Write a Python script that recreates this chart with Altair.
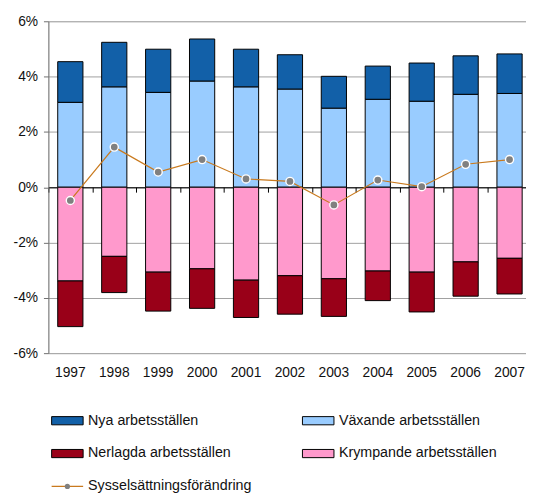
import altair as alt
import pandas as pd

years = ["1997", "1998", "1999", "2000", "2001", "2002", "2003", "2004", "2005", "2006", "2007"]
nya = [1.47, 1.61, 1.56, 1.52, 1.36, 1.24, 1.15, 1.20, 1.38, 1.39, 1.43]
vaxande = [3.07, 3.63, 3.43, 3.84, 3.63, 3.55, 2.86, 3.18, 3.11, 3.36, 3.39]
krympande = [-3.39, -2.50, -3.07, -2.95, -3.36, -3.20, -3.31, -3.03, -3.07, -2.70, -2.57]
nerlagda = [-1.65, -1.31, -1.41, -1.43, -1.35, -1.39, -1.36, -1.07, -1.44, -1.24, -1.29]
syss = [-0.48, 1.45, 0.55, 1.00, 0.30, 0.21, -0.64, 0.26, 0.02, 0.83, 1.00]

series_names = ["Nya arbetsställen", "Växande arbetsställen",
                "Nerlagda arbetsställen", "Krympande arbetsställen"]
series_colors = ["#1260A8", "#99CCFF", "#990018", "#FF99CC"]
line_name = "Sysselsättningsförändring"
y_ticks = [-6, -4, -2, 0, 2, 4, 6]

FONT = "Liberation Sans"
FS_AXIS = 14
FS_LEG = 14.5
LINE_COLOR = "#C97A1E"
POINT_COLOR = "#808080"

rows = []
for i, yr in enumerate(years):
    rows.append(dict(year=yr, series=series_names[1], y0=0, y1=vaxande[i]))
    rows.append(dict(year=yr, series=series_names[0], y0=vaxande[i], y1=vaxande[i] + nya[i]))
    rows.append(dict(year=yr, series=series_names[3], y0=0, y1=krympande[i]))
    rows.append(dict(year=yr, series=series_names[2], y0=krympande[i], y1=krympande[i] + nerlagda[i]))
bar_df = pd.DataFrame(rows)
line_df = pd.DataFrame({"year": years, "syss": syss})

leg_df = pd.DataFrame({"series": series_names, "col": [0, 1, 0, 1], "row": [0, 0, 1, 1]})
leg_line_df = pd.DataFrame({"series": [line_name], "col": [0], "row": [2]})

x_scale = alt.Scale(domain=years, range=[0, 490.6], paddingInner=0.426, paddingOuter=0.213)
y_scale = alt.Scale(domain=[-6, 6], nice=False, zero=False)
color_scale = alt.Scale(domain=series_names, range=series_colors)

y_axis = alt.Axis(values=y_ticks, labelExpr="datum.value + '%'", title=None,
                  gridColor="#A0A0A0", gridWidth=1, domainColor="#707070",
                  tickColor="#707070", tickSize=5, labelPadding=6,
                  labelFont=FONT, labelFontSize=FS_AXIS, labelColor="#111")

bars = alt.Chart(bar_df).mark_bar(stroke="black", strokeWidth=1).encode(
    x=alt.X("year:N", scale=x_scale,
            axis=alt.Axis(orient="bottom", title=None, labelAngle=0, ticks=False, tickSize=0,
                          domain=False, grid=False, labelPadding=13,
                          labelFont=FONT, labelFontSize=FS_AXIS, labelColor="#111")),
    y=alt.Y("y0:Q", scale=y_scale, axis=y_axis),
    y2="y1:Q",
    fill=alt.Fill("series:N", scale=color_scale, legend=None),
)

line = alt.Chart(line_df).mark_line(color=LINE_COLOR, strokeWidth=1.2).encode(
    x=alt.X("year:N", scale=x_scale,
            axis=alt.Axis(orient="bottom", offset=-168.5, labels=False, title=None,
                          ticks=True, tickSize=5, tickColor="black", tickWidth=1,
                          domainColor="black", domainWidth=1, grid=False,
                          bandPosition=0, tickOffset=-9.5)),
    y=alt.Y("syss:Q", scale=y_scale, axis=y_axis),
)

points = alt.Chart(line_df).mark_circle(size=68, color=POINT_COLOR, stroke="white",
                                         strokeWidth=1.4, opacity=1).encode(
    x=alt.X("year:N", scale=x_scale, axis=None),
    y=alt.Y("syss:Q", scale=y_scale, axis=y_axis),
)

main = alt.layer(bars, line, points).resolve_axis(x="independent")

lx = alt.Scale(domain=[0, 1], range=[19.3, 274])
ly = alt.Scale(domain=[0, 2], range=[405.6, 472.3])

swatch = alt.Chart(leg_df).mark_point(shape="M-1,-0.26H1V0.26H-1Z", size=1024, filled=True,
                                      stroke="black", strokeWidth=1, opacity=1).encode(
    x=alt.X("col:Q", scale=lx, axis=None),
    y=alt.Y("row:Q", scale=ly, axis=None),
    fill=alt.Fill("series:N", scale=color_scale, legend=None),
)
leg_text = alt.Chart(pd.concat([leg_df, leg_line_df])).mark_text(
    align="left", baseline="middle", dx=21, font=FONT, fontSize=FS_LEG, color="#111").encode(
    x=alt.X("col:Q", scale=lx, axis=None),
    y=alt.Y("row:Q", scale=ly, axis=None),
    text="series:N",
)
leg_line = alt.Chart(leg_line_df).mark_point(shape="M-1,0H1", size=1024, filled=False,
                                             stroke=LINE_COLOR, strokeWidth=1.3, opacity=1).encode(
    x=alt.X("col:Q", scale=lx, axis=None),
    y=alt.Y("row:Q", scale=ly, axis=None),
)
leg_dot = alt.Chart(leg_line_df).mark_circle(size=28, color=POINT_COLOR, opacity=1).encode(
    x=alt.X("col:Q", scale=lx, axis=None),
    y=alt.Y("row:Q", scale=ly, axis=None),
)
legend = alt.layer(swatch, leg_text, leg_line, leg_dot)

chart = alt.layer(main, legend).resolve_scale(x="independent", y="independent").properties(
    width=485, height=337,
    autosize=alt.AutoSizeParams(type="none"),
    padding={"left": 41, "top": 9.7, "right": 0, "bottom": 145},
).configure_view(stroke=None).configure(background="white")

chart.save("out.html", embed_options={"renderer": "svg", "actions": False})
